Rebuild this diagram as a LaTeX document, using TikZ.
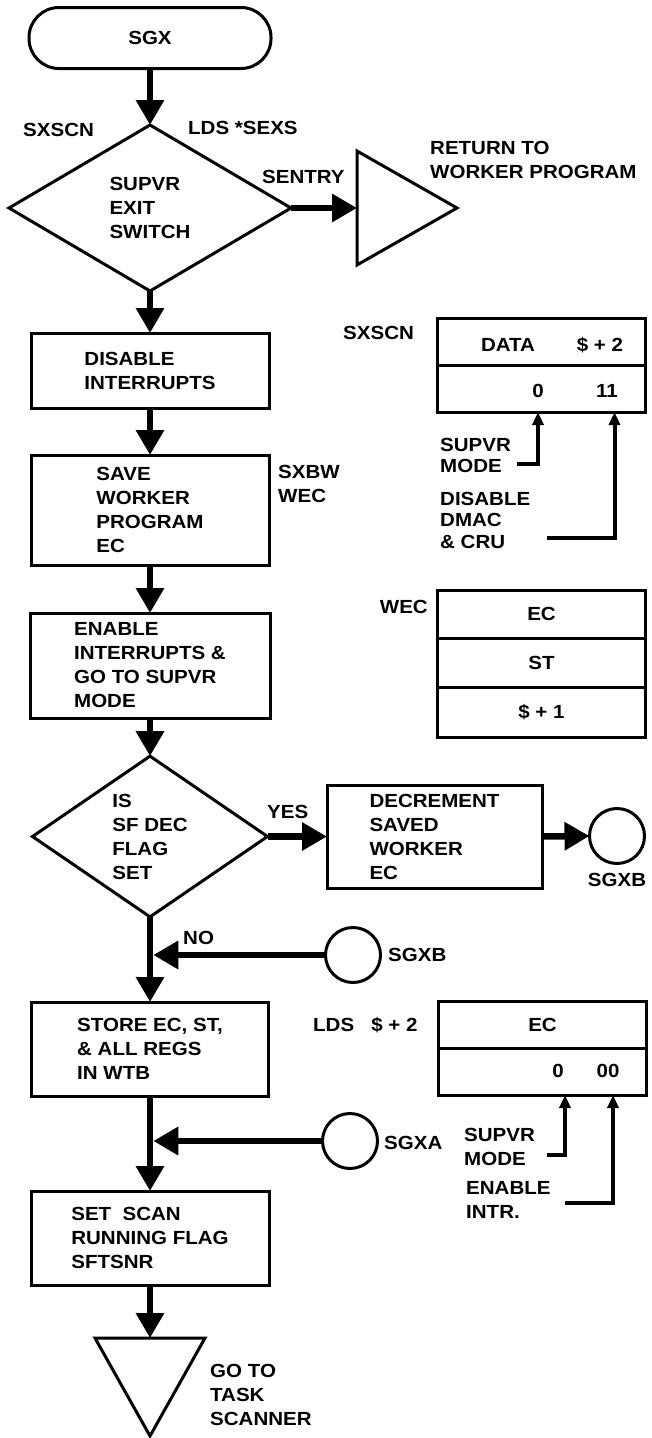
\documentclass[tikz,border=0pt]{standalone}
\usepackage{fontspec}
\setmainfont{Liberation Sans}[FakeStretch=1.08]
\usetikzlibrary{arrows.meta,positioning,shapes.geometric}

\begin{document}
\begin{tikzpicture}[x=1pt,y=-1pt,
  font=\fontsize{19}{24}\selectfont\bfseries,
  box/.style={draw,line width=3pt,outer sep=0pt,inner sep=2pt,align=left,minimum width=238pt},
  test/.style={draw,diamond,line width=3pt,outer sep=0pt,inner sep=0pt,align=left},
  term/.style={draw,rounded corners=30pt,line width=3pt,outer sep=0pt,minimum width=242pt,minimum height=61pt},
  conn/.style={draw,circle,line width=3pt,outer sep=0pt,minimum size=55pt},
  cell/.style={draw,line width=3pt,outer sep=0pt,minimum width=208pt,minimum height=47pt},
  txt/.style={anchor=west,align=left,inner sep=0pt},
  flow/.style={line width=6.5pt,-{Triangle[length=25pt,width=27pt]}},
  note/.style={line width=4pt,-{Triangle[length=13pt,width=11pt]}}]
\useasboundingbox (0,0) rectangle (651,1438);

% main column
\node[term] (sgx) at (150,38) {SGX};
\node[test,minimum width=282pt,minimum height=166pt] (exitsw) at (150,208) {SUPVR\\EXIT\\SWITCH};
\node[box,minimum height=75pt] (disint) at (150,370.5) {DISABLE\\INTERRUPTS};
\node[box,minimum height=110pt] (savewec) at (150,510) {SAVE\\WORKER\\PROGRAM\\EC};
\node[box,minimum width=240pt,minimum height=105pt] (enint) at (150,665.5) {ENABLE\\INTERRUPTS \&\\GO TO SUPVR\\MODE};
\node[test,minimum width=235pt,minimum height=137pt] (decflag) at (150,836.5) {IS\\SF DEC\\FLAG\\SET};
\node[box,minimum width=215pt,minimum height=103pt] (decwec) at (434.5,836.5) {DECREMENT\\SAVED\\WORKER\\EC};
\node[conn] (sgxbout) at (617,836) {};
\node[conn] (sgxbin) at (353,955) {};
\node[box,minimum width=237pt,minimum height=94pt] (store) at (150,1049) {STORE EC, ST,\\\& ALL REGS\\IN WTB};
\node[conn] (sgxa) at (350,1141) {};
\node[box,minimum height=94pt] (scanflag) at (150,1238) {SET\ \ SCAN\\RUNNING FLAG\\SFTSNR};

% off-page ends
\coordinate (ret) at (357,208);
\draw[line width=3pt] (ret) -- ++(0,-57) -- ++(100,57) -- ++(-100,57) -- cycle;
\coordinate (task) at (150,1338);
\draw[line width=3pt] (task) ++(-55,0) -- ++(110,0) -- ++(-55,98) -- cycle;

% flow
\draw[flow] (sgx.south) -- (exitsw.north);
\draw[flow] (exitsw.east) -- (ret);
\draw[flow] (exitsw.south) -- (disint.north);
\draw[flow] (disint.south) -- (savewec.north);
\draw[flow] (savewec.south) -- (enint.north);
\draw[flow] (enint.south) -- (decflag.north);
\draw[flow] (decflag.east) -- (decwec.west);
\draw[flow] (decwec.east) -- (sgxbout.west);
\draw[flow] (decflag.south) -- (store.north);
\draw[flow] (store.south) -- (scanflag.north);
\draw[flow] (scanflag.south) -- (task);
\coordinate (joinb) at (decflag.south |- sgxbin.west);
\coordinate (joina) at (store.south |- sgxa.west);
\draw[flow] (sgxbin.west) -- ([xshift=3.25pt]joinb);
\draw[flow] (sgxa.west) -- ([xshift=3.25pt]joina);

% labels
\node[txt] (lblscn) at (23,130) {SXSCN};
\node[txt] (lblexs) at (188,128) {LDS *SEXS};
\node[txt] (lblsentry) at (262,177) {SENTRY};
\node[txt] (lblret) at (430,160) {RETURN TO\\WORKER PROGRAM};
\node[txt] (lblsxbw) at (278,484) {SXBW\\WEC};
\node[txt] (lblyes) at (267,812) {YES};
\node[txt] (lblno) at (183,938) {NO};
\node (lblsgxbout) at (617,880) {SGXB};
\node[txt] (lblsgxbin) at (388,955) {SGXB};
\node[txt] (lblsgxa) at (384,1143) {SGXA};
\node[txt] (lbltask) at (210,1395) {GO TO\\TASK\\SCANNER};

% SXSCN word
\node[txt] (lblscn2) at (343,333) {SXSCN};
\node[cell] (scnhi) at (541.5,341.5) {};
\node[cell,below=0pt of scnhi] (scnlo) {};
\node (scndata) at (508,345) {DATA};
\node (scnaddr) at (600,345) {\$ + 2};
\node (scnmode) at (538,391) {0};
\node (scncru) at (607,391) {11};
\node[txt,font=\fontsize{19}{21}\selectfont\bfseries] (scnsup) at (440,455) {SUPVR\\MODE};
\node[txt,font=\fontsize{19}{21.5}\selectfont\bfseries] (scndis) at (440,520) {DISABLE\\DMAC\\\& CRU};
\coordinate (scnsupend) at (517,464);
\coordinate (scndisend) at (547,538);
\draw[note] (scnsupend) -| ([xshift=-3.5pt]scnlo.south);
\draw[note] (scndisend) -| ([xshift=73pt]scnlo.south);

% WEC block
\node[txt,anchor=east] (lblwec) at (428,607) {WEC};
\node[cell,minimum height=48pt] (wecec) at (541.5,614) {EC};
\node[cell,minimum height=49pt,below=0pt of wecec] (wecst) {ST};
\node[cell,minimum height=50pt,below=0pt of wecst] (wecpc) {\$ + 1};

% LDS word
\node[txt] (lbllds) at (313,1025) {LDS\ \ \ \$ + 2};
\node[cell] (ldshi) at (542.5,1024.5) {EC};
\node[cell,below=0pt of ldshi] (ldslo) {};
\node (ldsmode) at (558,1071) {0};
\node (ldsintr) at (608,1071) {00};
\node[txt] (ldssup) at (464,1147) {SUPVR\\MODE};
\node[txt] (ldsen) at (466,1200) {ENABLE\\INTR.};
\coordinate (ldssupend) at (547,1155);
\coordinate (ldsenend) at (565,1203);
\draw[note] (ldssupend) -| ([xshift=22.5pt]ldslo.south);
\draw[note] (ldsenend) -| ([xshift=70.5pt]ldslo.south);
\end{tikzpicture}
\end{document}
